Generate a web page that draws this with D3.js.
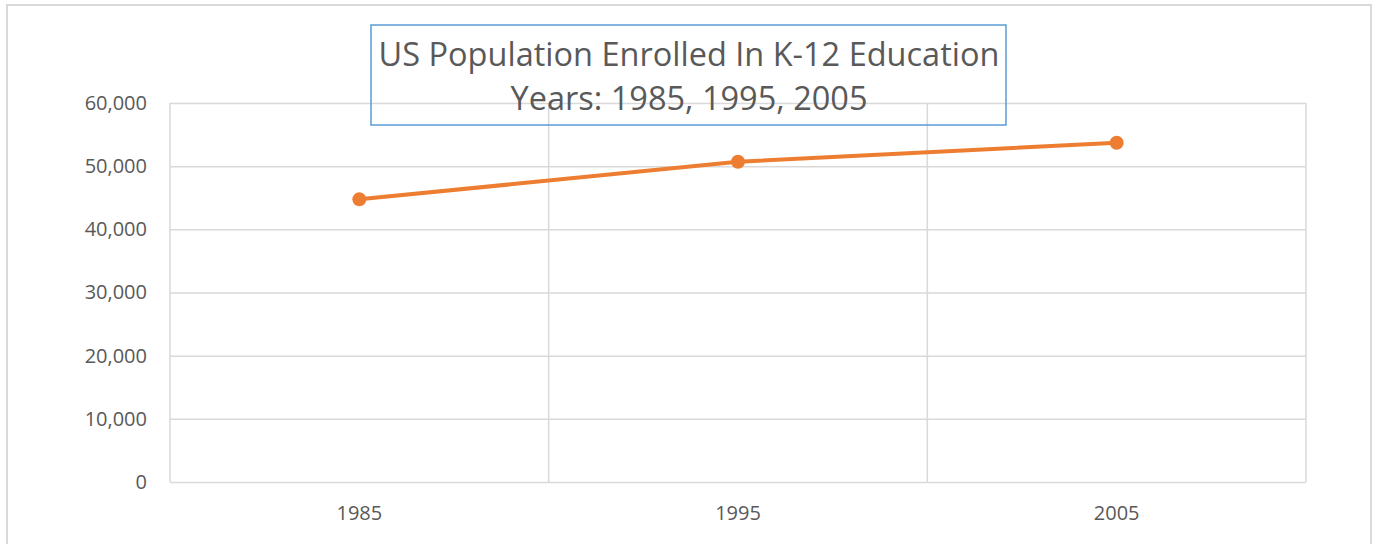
<!DOCTYPE html>
<html>
<head>
  <title>K-12 enrollment</title>
  <script src="https://d3js.org/d3.v7.min.js"></script>
  <style>
    body { margin: 0; background: #fff; }
    text { font-family: "Open Sans", sans-serif; fill: #595959; }
    .gridlines line { stroke: #d9d9d9; stroke-width: 1.5; }
    .gridlines .domain { stroke: none; }
  </style>
</head>
<body>
  <svg id="chart" width="1377" height="544"></svg>

  <script>
    // data (thousands of students)
    const years = ["1985", "1995", "2005"];
    const enrolled = [44750, 50700, 53700];
    const yTicks = [0, 10000, 20000, 30000, 40000, 50000, 60000];
    const titleLines = ["US Population Enrolled In K-12 Education", "Years: 1985, 1995, 2005"];

    const svg = d3.select("#chart");

    let margin = {top: 103, right: 71, bottom: 62, left: 170};
    let chartWidth = 1377 - margin.left - margin.right;
    let chartHeight = 544 - margin.top - margin.bottom;

    // outer chart border
    svg.append("rect")
      .attr("x", 7).attr("y", 5)
      .attr("width", 1364).attr("height", 560)
      .attr("fill", "none")
      .attr("stroke", "#d9d9d9")
      .attr("stroke-width", 2);

    const xScale = d3.scaleBand()
      .domain(years)
      .range([0, chartWidth])
      .padding(0);

    const yScale = d3.scaleLinear()
      .domain([0, 60000])
      .range([chartHeight, 0]);

    const chart = svg.append("g")
      .attr("transform", `translate(${margin.left}, ${margin.top})`);

    // horizontal gridlines
    chart.append("g")
      .attr("class", "gridlines")
      .call(d3.axisLeft(yScale).tickValues(yTicks).tickSize(-chartWidth).tickFormat(""));

    // vertical gridlines on category boundaries
    const bounds = years.map(d => xScale(d)).concat([chartWidth]);
    chart.append("g")
      .attr("class", "gridlines")
      .selectAll("line")
      .data(bounds)
      .join("line")
      .attr("x1", d => d).attr("x2", d => d)
      .attr("y1", 0).attr("y2", chartHeight);

    // y labels
    chart.append("g")
      .call(d3.axisLeft(yScale).tickValues(yTicks).tickSize(0).tickPadding(23).tickFormat(d3.format(",")))
      .call(g => g.select(".domain").remove())
      .selectAll("text")
      .style("font-size", "20px")
      .attr("fill", "#595959");

    // x labels
    chart.append("g")
      .attr("transform", `translate(0, ${chartHeight})`)
      .call(d3.axisBottom(xScale).tickSize(0).tickPadding(24))
      .call(g => g.select(".domain").remove())
      .selectAll("text")
      .style("font-size", "20px")
      .attr("fill", "#595959");

    // the line
    const points = years.map((y, i) => ({year: y, value: enrolled[i]}));
    const line = d3.line()
      .x(d => xScale(d.year) + xScale.bandwidth() / 2)
      .y(d => yScale(d.value));

    chart.append("path")
      .datum(points)
      .attr("d", line)
      .attr("fill", "none")
      .attr("stroke", "#ed7d31")
      .attr("stroke-width", 4);

    chart.selectAll(".dot")
      .data(points)
      .join("circle")
      .attr("class", "dot")
      .attr("cx", d => xScale(d.year) + xScale.bandwidth() / 2)
      .attr("cy", d => yScale(d.value))
      .attr("r", 7)
      .attr("fill", "#ed7d31");

    // title box
    svg.append("rect")
      .attr("x", 371).attr("y", 25)
      .attr("width", 635).attr("height", 100)
      .attr("fill", "none")
      .attr("stroke", "#5b9bd5")
      .attr("stroke-width", 1.5);

    svg.append("g")
      .selectAll("text")
      .data(titleLines)
      .join("text")
      .attr("x", 689)
      .attr("y", (d, i) => 66 + i * 44)
      .attr("text-anchor", "middle")
      .style("font-size", "32.5px")
      .text(d => d);
  </script>
</body>
</html>
